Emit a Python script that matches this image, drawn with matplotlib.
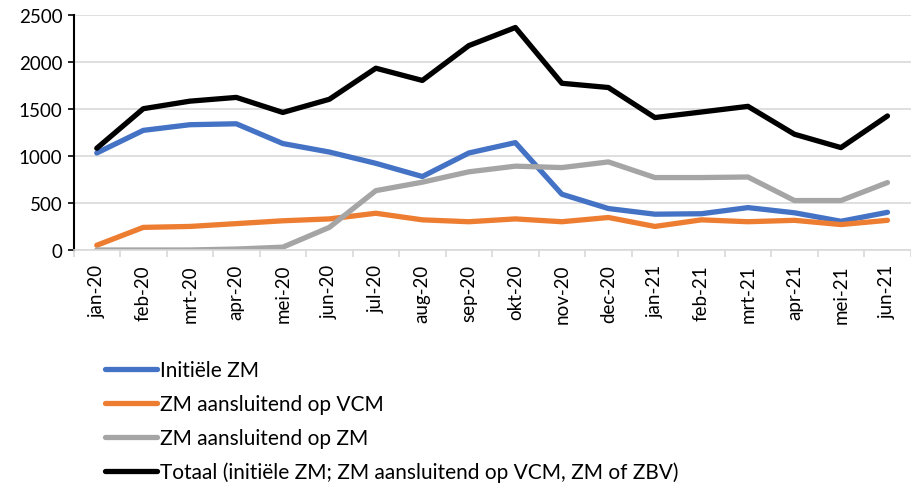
import matplotlib.pyplot as plt
import numpy as np

plt.rcParams['font.family'] = ['Lato', 'DejaVu Sans']

months = ['jan-20', 'feb-20', 'mrt-20', 'apr-20', 'mei-20', 'jun-20', 'jul-20', 'aug-20',
          'sep-20', 'okt-20', 'nov-20', 'dec-20', 'jan-21', 'feb-21', 'mrt-21', 'apr-21',
          'mei-21', 'jun-21']

initiele = [1030, 1270, 1330, 1340, 1130, 1040, 920, 780, 1030, 1140, 592, 440, 380, 385, 450, 395, 305, 400]
op_vcm = [50, 240, 250, 280, 310, 330, 390, 320, 300, 330, 300, 345, 250, 320, 300, 315, 270, 315]
op_zm = [0, 0, 0, 10, 30, 240, 630, 720, 830, 890, 875, 935, 769, 769, 775, 525, 525, 716]
totaal = [1080, 1500, 1580, 1620, 1460, 1600, 1930, 1800, 2170, 2362, 1770, 1725, 1406, 1465, 1525, 1229, 1087, 1423]

fig = plt.figure(figsize=(9.11, 4.85), dpi=100)
ax = fig.add_axes([0.0807, 0.4825, 0.919, 0.4855])

x = np.arange(len(months))
lw = 3.8
ax.plot(x, initiele, color='#4472C4', lw=lw, label='Initiële ZM', solid_capstyle='round')
ax.plot(x, op_vcm, color='#ED7D31', lw=lw, label='ZM aansluitend op VCM', solid_capstyle='round')
ax.plot(x, op_zm, color='#A5A5A5', lw=lw, label='ZM aansluitend op ZM', solid_capstyle='round')
ax.plot(x, totaal, color='black', lw=lw, label='Totaal (initiële ZM; ZM aansluitend op VCM, ZM of ZBV)',
        solid_capstyle='round')

ax.set_xlim(-0.5, len(months) - 0.5)
ax.set_ylim(0, 2500)
ax.set_yticks(range(0, 2501, 500))
ax.grid(axis='y', color='#D9D9D9', lw=1.2)
ax.set_axisbelow(True)

for s in ['top', 'right']:
    ax.spines[s].set_visible(False)
ax.spines['left'].set_color('black')
ax.spines['left'].set_linewidth(1.5)
ax.spines['bottom'].set_color('#D9D9D9')
ax.spines['bottom'].set_linewidth(1.2)

ax.set_xticks(x)
ax.set_xticklabels(months, rotation=90, fontsize=13.5)
ax.tick_params(axis='x', length=0, pad=10)
ax.set_xticks(np.arange(-0.5, len(months), 1), minor=True)
ax.tick_params(axis='x', which='minor', length=5, color='#D9D9D9', width=1.2)
ax.tick_params(axis='y', labelsize=13.5, length=4, color='black', width=1.2, pad=4)

handles, labels = ax.get_legend_handles_labels()
fig.legend(handles, labels, loc='upper left', bbox_to_anchor=(0.106, 0.272),
           frameon=False, fontsize=15, handlelength=2.5, handletextpad=0.15,
           labelspacing=0.66, borderaxespad=0)

fig.savefig('out.png', dpi=100)
